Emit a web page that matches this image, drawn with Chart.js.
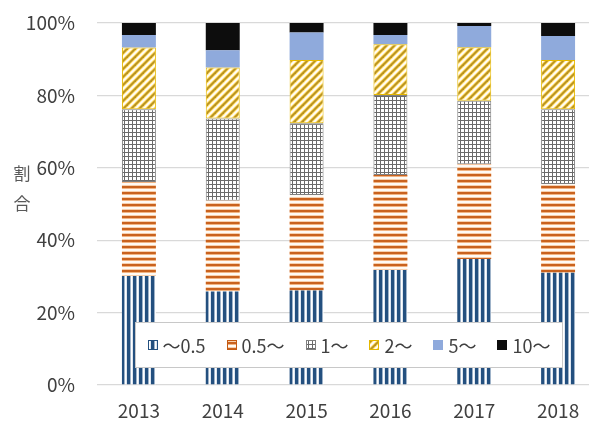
<!DOCTYPE html>
<html lang="ja">
<head>
<meta charset="utf-8">
<script src="https://cdn.jsdelivr.net/npm/chart.js@4.4.1/dist/chart.umd.min.js"></script>
<style>
html,body{margin:0;padding:0;background:#fff;overflow:hidden;}
#wrap{width:612px;height:421px;}
</style>
</head>
<body>
<div id="wrap"><canvas id="c" width="612" height="421"></canvas></div>
<script>
// Share of each size class per year (percent, stacked to 100%)
const years = ['2013', '2014', '2015', '2016', '2017', '2018'];
const seriesLabels = ['～0.5', '0.5～', '1～', '2～', '5～', '10～'];
const under05 = [30.1, 25.8, 26.1, 31.8, 34.8, 31.0];
const from05  = [26.0, 25.1, 26.4, 26.2, 26.2, 24.5];
const from1   = [20.1, 22.7, 19.8, 22.1, 17.5, 20.7];
const from2   = [17.0, 14.1, 17.5, 14.0, 14.8, 13.6];
const from5   = [3.5, 4.8, 7.6, 2.6, 5.9, 6.6];
const from10  = [3.3, 7.5, 2.6, 3.3, 0.8, 3.6];
const yTickStep = 20;
const yAxisTitle = ['割', '合'];

const canvas = document.getElementById('c');
const ctx = canvas.getContext('2d');

// Build a repeating fill from a small tile
function makePattern(w, h, paint) {
  const t = document.createElement('canvas');
  t.width = w; t.height = h;
  const g = t.getContext('2d');
  g.fillStyle = '#ffffff';
  g.fillRect(0, 0, w, h);
  paint(g, w, h);
  return ctx.createPattern(t, 'repeat');
}

const vertStripes = makePattern(6, 6, g => {
  g.fillStyle = '#dfe7f1'; g.fillRect(0, 0, 1, 6);
  g.fillStyle = '#24507f'; g.fillRect(1, 0, 3, 6);
  g.fillStyle = '#9fb3c9'; g.fillRect(4, 0, 1, 6);
});
const horizStripes = makePattern(6, 6, g => {
  g.fillStyle = '#c9621e'; g.fillRect(0, 0, 6, 2);
  g.fillStyle = '#f2b482'; g.fillRect(0, 2, 6, 1);
  g.fillStyle = '#fffaf4'; g.fillRect(0, 3, 6, 2);
  g.fillStyle = '#f7cfac'; g.fillRect(0, 5, 6, 1);
});
const smallGrid = makePattern(4, 4, g => {
  g.fillStyle = '#6a6a6a';
  g.fillRect(0, 0, 4, 1);
  g.fillRect(0, 0, 1, 4);
});
const diagStripes = makePattern(8, 8, g => {
  const lines = [[-8, 8, 8, -8], [0, 8, 8, 0], [0, 16, 16, 0]];
  g.lineCap = 'square';
  g.strokeStyle = '#ffdc6e'; g.lineWidth = 3.8;
  lines.forEach(l => { g.beginPath(); g.moveTo(l[0], l[1]); g.lineTo(l[2], l[3]); g.stroke(); });
  g.strokeStyle = '#b8921e'; g.lineWidth = 1.9;
  lines.forEach(l => { g.beginPath(); g.moveTo(l[0], l[1]); g.lineTo(l[2], l[3]); g.stroke(); });
});

const fills   = [vertStripes, horizStripes, smallGrid, diagStripes, '#8faadc', '#0d0d0d'];
const strokes = ['#24507f', '#c55a11', '#7f7f7f', '#e5b800', '#8faadc', '#0d0d0d'];
const values  = [under05, from05, from1, from2, from5, from10];

const FONT = '"Noto Sans CJK JP", "Noto Sans", sans-serif';
Chart.defaults.font.family = FONT;

// Legend box laid over the lower part of the bars
const overlayLegend = {
  id: 'overlayLegend',
  afterDatasetsDraw(chart) {
    const c = chart.ctx;
    const box = { x: 135.5, y: 322.5, w: 427, h: 45 };
    c.save();
    c.fillStyle = '#ffffff';
    c.fillRect(box.x, box.y, box.w, box.h);
    c.strokeStyle = '#c8c8c8';
    c.lineWidth = 1;
    c.strokeRect(box.x, box.y, box.w, box.h);
    c.font = '18px ' + FONT;
    c.textBaseline = 'middle';
    c.textAlign = 'left';
    const sw = 10, textGap = 5, itemGap = 21;
    const items = chart.data.datasets.map((ds, i) => ({
      label: ds.label, fill: fills[i], stroke: strokes[i],
      w: sw + textGap + c.measureText(ds.label).width
    }));
    const total = items.reduce((s, it) => s + it.w, 0) + itemGap * (items.length - 1);
    let x = box.x + (box.w - total) / 2;
    const cy = box.y + box.h / 2;
    items.forEach(it => {
      const sx = Math.round(x), sy = Math.round(cy - sw / 2);
      c.fillStyle = it.fill;
      c.fillRect(sx, sy, sw, sw);
      c.strokeStyle = it.stroke;
      c.strokeRect(sx + 0.5, sy + 0.5, sw - 1, sw - 1);
      c.fillStyle = '#404040';
      c.fillText(it.label, x + sw + textGap, cy + 1);
      x += it.w + itemGap;
    });
    c.restore();
  }
};

// Upright, stacked y-axis title
const stackedYTitle = {
  id: 'stackedYTitle',
  afterDraw(chart) {
    const c = chart.ctx;
    c.save();
    c.font = '17px ' + FONT;
    c.fillStyle = '#595959';
    c.textAlign = 'center';
    c.textBaseline = 'middle';
    yAxisTitle.forEach((ch, i) => c.fillText(ch, 22, 174 + i * 30));
    c.restore();
  }
};

new Chart(ctx, {
  type: 'bar',
  data: {
    labels: years,
    datasets: seriesLabels.map((label, i) => ({
      label,
      data: values[i],
      backgroundColor: fills[i],
      borderColor: strokes[i],
      borderWidth: (i === 2 || i === 3) ? 1 : 0,
      borderSkipped: false,
      barPercentage: 1,
      categoryPercentage: 0.405
    }))
  },
  options: {
    responsive: false,
    animation: false,
    devicePixelRatio: 1,
    layout: { padding: { top: 23, right: 12, left: 0, bottom: 0 } },
    plugins: {
      legend: { display: false },
      tooltip: { enabled: false }
    },
    scales: {
      x: {
        stacked: true,
        grid: { display: false, drawTicks: false },
        border: { display: false },
        ticks: { color: '#404040', font: { size: 19 }, padding: 14 },
        afterFit(scale) { scale.height = 36; scale.paddingLeft = 0; scale.paddingRight = 0; }
      },
      y: {
        stacked: true,
        min: 0,
        max: 100,
        grid: { color: '#d9d9d9', lineWidth: 1.3, drawTicks: false },
        border: { display: false },
        ticks: {
          stepSize: yTickStep,
          color: '#404040',
          font: { size: 19 },
          padding: 22,
          callback: v => v + '%'
        },
        afterFit(scale) { scale.width = 97; scale.paddingTop = 0; scale.paddingBottom = 0; }
      }
    }
  },
  plugins: [overlayLegend, stackedYTitle]
});
</script>
</body>
</html>
